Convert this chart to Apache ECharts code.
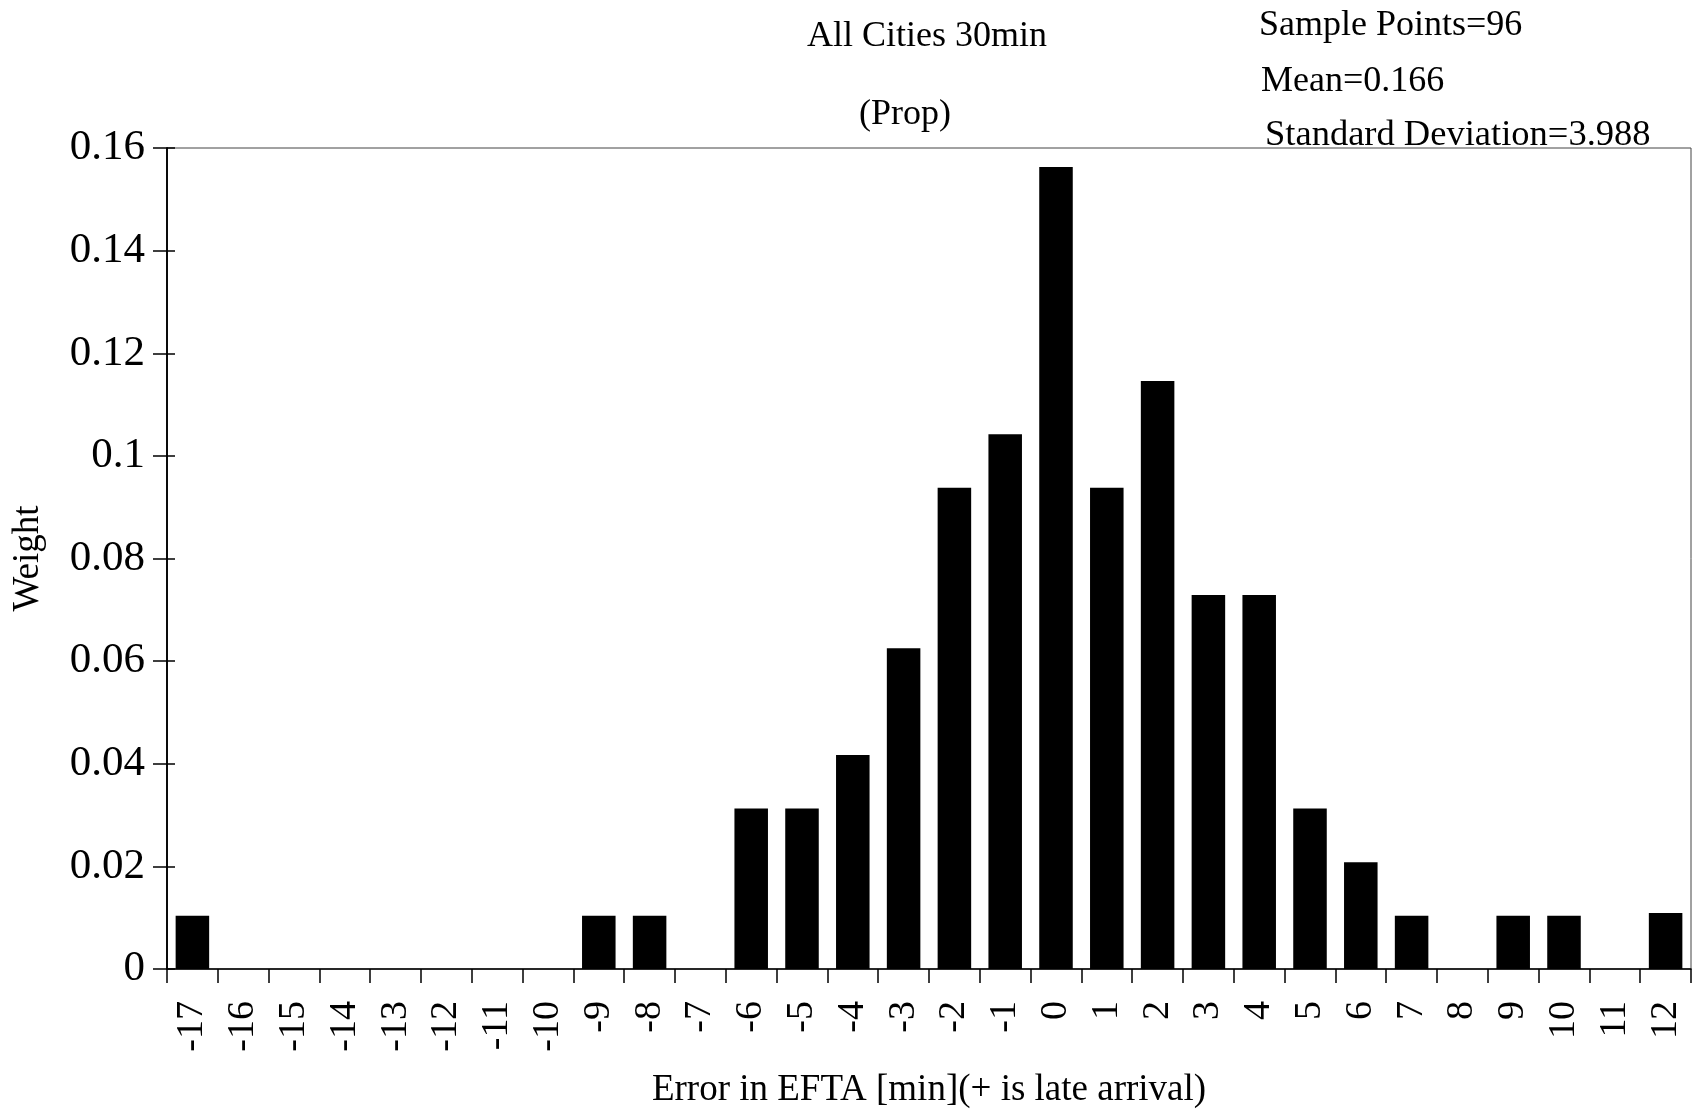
<!DOCTYPE html>
<html><head><meta charset="utf-8">
<script src="https://cdn.jsdelivr.net/npm/echarts@6/dist/echarts.min.js"></script>
<style>html,body{margin:0;padding:0;background:#fff}#c{width:1694px;height:1113px}</style>
</head><body><div id="c"></div>
<script>
const categories = ['-17','-16','-15','-14','-13','-12','-11','-10','-9','-8','-7','-6','-5','-4','-3','-2','-1','0','1','2','3','4','5','6','7','8','9','10','11','12'];
const weights = [0.0104,0,0,0,0,0,0,0,0.0104,0.0104,0,0.0313,0.0313,0.0417,0.0625,0.0938,0.1042,0.1563,0.0938,0.1146,0.0729,0.0729,0.0313,0.0208,0.0104,0,0.0104,0.0104,0,0.0109];
const yTicks = [0,0.02,0.04,0.06,0.08,0.1,0.12,0.14,0.16];
const titleLines = ['All Cities 30min','(Prop)'];
const statLines = ['Sample Points=96','Mean=0.166','Standard Deviation=3.988'];
const xName = 'Error in EFTA [min](+ is late arrival)';
const yName = 'Weight';

const F = 'Liberation Serif';
const chart = echarts.init(document.getElementById('c'));
const yAxisBase = {
  type:'value', min:yTicks[0], max:yTicks[yTicks.length-1], interval:0.02,
  splitLine:{show:false},
  axisLine:{show:true, lineStyle:{color:'#000', width:1.5}}
};
function txt(s, x, y, size, align){
  return {type:'text', x:x, y:y, style:{text:s, font:size+'px "'+F+'"', fill:'#000', textAlign:align||'left', textVerticalAlign:'middle'}};
}
chart.setOption({
  animation:false,
  backgroundColor:'#fff',
  graphic:[
    txt(titleLines[0], 927, 37, 36, 'center'),
    txt(titleLines[1], 905, 115, 36, 'center'),
    txt(statLines[0], 1259, 26, 36),
    txt(statLines[1], 1261, 82, 36),
    txt(statLines[2], 1265, 135, 36.5)
  ],
  grid:{left:167, right:3, top:148, bottom:144, show:true, borderColor:'#444', borderWidth:1, backgroundColor:'transparent', outerBoundsMode:'none', containLabel:false},
  xAxis:{
    type:'category', data:categories,
    name:xName, nameLocation:'middle', nameGap:103,
    nameTextStyle:{fontFamily:F, fontSize:37, color:'#000'},
    axisLine:{show:true, lineStyle:{color:'#000', width:1.5}},
    axisTick:{show:true, alignWithLabel:false, length:14, lineStyle:{color:'#000', width:1.5}},
    axisLabel:{rotate:90, fontFamily:F, fontSize:38, color:'#000', margin:32, interval:0}
  },
  yAxis:[
    Object.assign({}, yAxisBase, {
      name:yName, nameLocation:'middle', nameGap:120,
      nameTextStyle:{fontFamily:F, fontSize:37, color:'#000'},
      axisTick:{show:true, length:14, lineStyle:{color:'#000', width:1.5}},
      axisLabel:{fontFamily:F, fontSize:43, color:'#000', margin:22, formatter:v=>String(+v.toFixed(2))}
    }),
    Object.assign({}, yAxisBase, {
      position:'left', axisTick:{show:true, inside:true, length:8, lineStyle:{color:'#000', width:1.5}},
      axisLabel:{show:false}
    })
  ],
  series:[{
    type:'bar', data:weights, yAxisIndex:0,
    barCategoryGap:'34%',
    itemStyle:{color:'#000'}
  }]
});
</script>
</body></html>
